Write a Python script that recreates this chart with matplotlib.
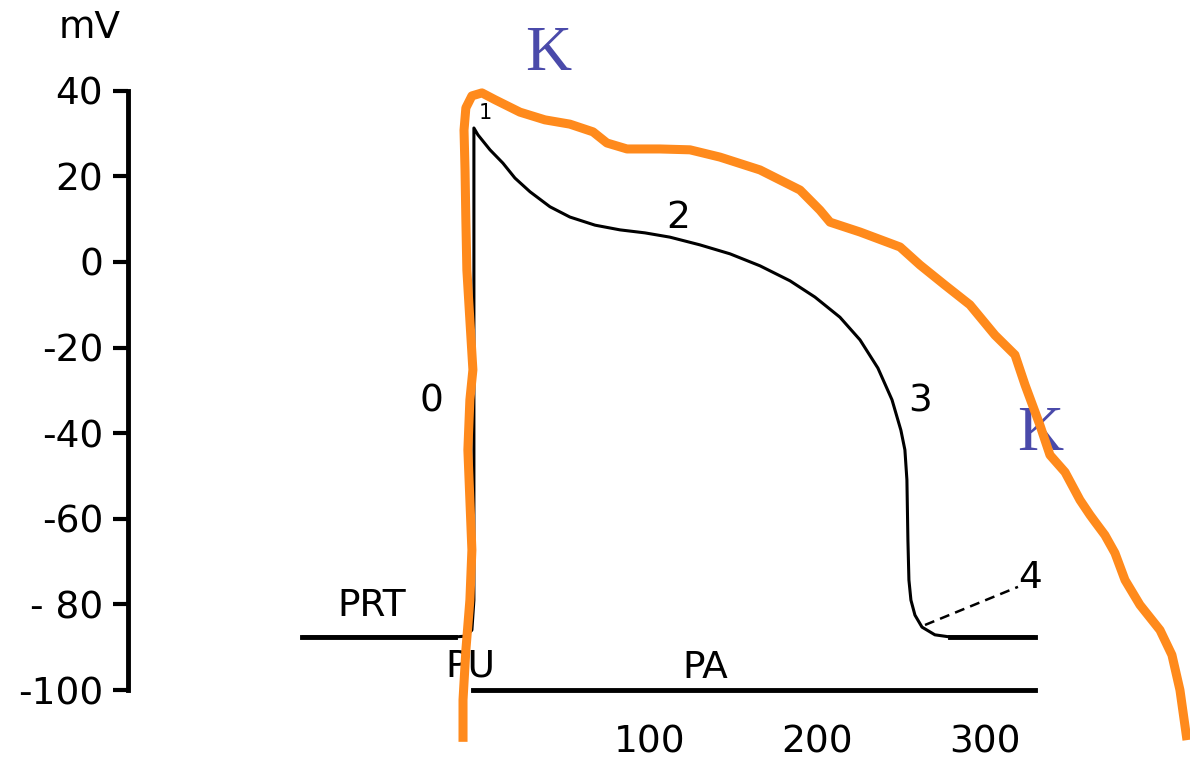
import matplotlib
matplotlib.use("Agg")
import matplotlib.pyplot as plt

# action potential trace (ms, mV)
ap_t = [-107.5, -16.1, -9.6, -6.0, -4.8, -4.8, -4.8, -4.8, -2.4, 4.8, 12.5, 19.7, 28.7,
        40.6, 52.5, 67.5, 82.4, 97.3, 112.2, 130.1, 148.1, 166.0, 183.9, 198.8, 213.7,
        225.7, 236.4, 244.8, 250.1, 252.5, 253.7, 254.3, 254.9, 256.1, 258.5, 262.7,
        270.4, 279.4, 330.1]
ap_v = [-87.6, -87.6, -87.4, -86.0, -79.0, -32.2, 14.5, 31.3, 29.7, 26.2, 23.1, 19.6, 16.4,
        12.9, 10.5, 8.6, 7.5, 6.8, 5.8, 4.0, 1.9, -0.9, -4.4, -8.2, -12.9,
        -18.2, -24.8, -32.2, -39.3, -43.9, -50.9, -65.0, -74.3, -79.0, -82.5, -85.3,
        -87.1, -87.6, -87.6]

# phase 4 dashed line
ph4_t = [264.5, 320.0]
ph4_v = [-84.8, -75.9]

# PA bar
pa_t = [-5.4, 330.1]
pa_v = [-100, -100]

# hand-drawn K envelope
k_t = [-11.3, -11.3, -9.6, -7.2, -6.0, -7.2, -8.4, -7.2, -5.4, -7.2, -9.0, -9.6, -10.1,
       -10.7, -9.6, -6.0, 0.0, 7.8, 22.7, 37.6, 52.5, 66.3, 74.6, 86.6, 106.3, 124.2,
       142.1, 166.0, 189.9, 201.8, 207.8, 225.7, 249.6, 261.5, 276.4, 291.3, 306.3,
       318.2, 324.2, 333.1, 339.1, 348.1, 357.0, 363.0, 366.0, 371.9, 377.9, 383.9,
       392.8, 404.8, 411.9, 416.7, 420.9]
k_v = [-112.1, -102.3, -90.7, -79.0, -67.3, -55.6, -43.9, -32.2, -25.2, -13.6, -1.9, 9.8,
       21.5, 30.8, 36.0, 38.8, 39.5, 37.9, 35.0, 33.2, 32.2, 30.4, 27.8, 26.4, 26.4, 26.2,
       24.5, 21.5, 16.8, 12.1, 9.3, 7.0, 3.5, -0.7, -5.4, -10.0, -17.1,
       -21.7, -28.7, -38.1, -45.1, -49.1, -55.6, -59.1, -60.7, -63.8, -68.0, -74.3,
       -80.1, -86.0, -91.8, -100.0, -111.7]

y_ticks = [40, 20, 0, -20, -40, -60, -80, -100]
y_labels = ["40", "20", "0", "-20", "-40", "-60", "- 80", "-100"]
x_ticks = [100, 200, 300]

fig = plt.figure(figsize=(11.9, 7.61), dpi=100)
ax = fig.add_axes([128 / 1190, 41 / 761, 1062 / 1190, 720 / 761])
ax.set_xlim(-211.3, 422.7)
ax.set_ylim(-107.0, 61.2)

ax.plot(ap_t, ap_v, color="black", lw=2.2, solid_capstyle="butt")
ax.plot([-107.5, -16.1], [-87.6, -87.6], color="black", lw=3.5)
ax.plot([279.4, 330.1], [-87.6, -87.6], color="black", lw=3.5)
ax.plot(pa_t, pa_v, color="black", lw=3.5)
ax.plot(ph4_t, ph4_v, color="black", lw=1.8, ls=(0, (4, 2.5)))
ax.plot(k_t, k_v, color="#FF8A1C", lw=6.5, clip_on=False, solid_capstyle="butt",
        solid_joinstyle="round", zorder=5)

fs = 27
ax.text(-65.7, -80.4, "PRT", fontsize=fs, ha="center", va="center")
ax.text(-7.2, -94.6, "PU", fontsize=fs, ha="center", va="center")
ax.text(133.1, -94.9, "PA", fontsize=fs, ha="center", va="center")
ax.text(-29.9, -32.7, "0", fontsize=fs, ha="center", va="center")
ax.text(1.8, 34.8, "1", fontsize=15, ha="center", va="center")
ax.text(117.0, 10.3, "2", fontsize=fs, ha="center", va="center")
ax.text(261.5, -32.7, "3", fontsize=fs, ha="center", va="center")
ax.text(327.2, -73.8, "4", fontsize=fs, ha="center", va="center")

ax.text(39.4, 48.4, "K", fontsize=46, family="Liberation Serif", color="#4A4AAA",
        ha="center", va="center")
ax.text(333.1, -40.4, "K", fontsize=46, family="Liberation Serif", color="#4A4AAA",
        ha="center", va="center", zorder=4)

fig.text(90 / 1190, 1 - 28 / 761, "mV", fontsize=fs, ha="center", va="center")

for s in ["top", "right", "bottom"]:
    ax.spines[s].set_visible(False)
ax.spines["left"].set_linewidth(3.5)
ax.spines["left"].set_bounds(-100, 40)

ax.set_yticks(y_ticks)
ax.set_yticklabels(y_labels)
ax.tick_params(axis="y", direction="out", length=11, width=3, pad=7, labelsize=fs)
ax.set_xticks(x_ticks)
ax.set_xticklabels([str(v) for v in x_ticks])
ax.tick_params(axis="x", length=0, pad=3, labelsize=fs)

fig.savefig("out.png", dpi=100)
